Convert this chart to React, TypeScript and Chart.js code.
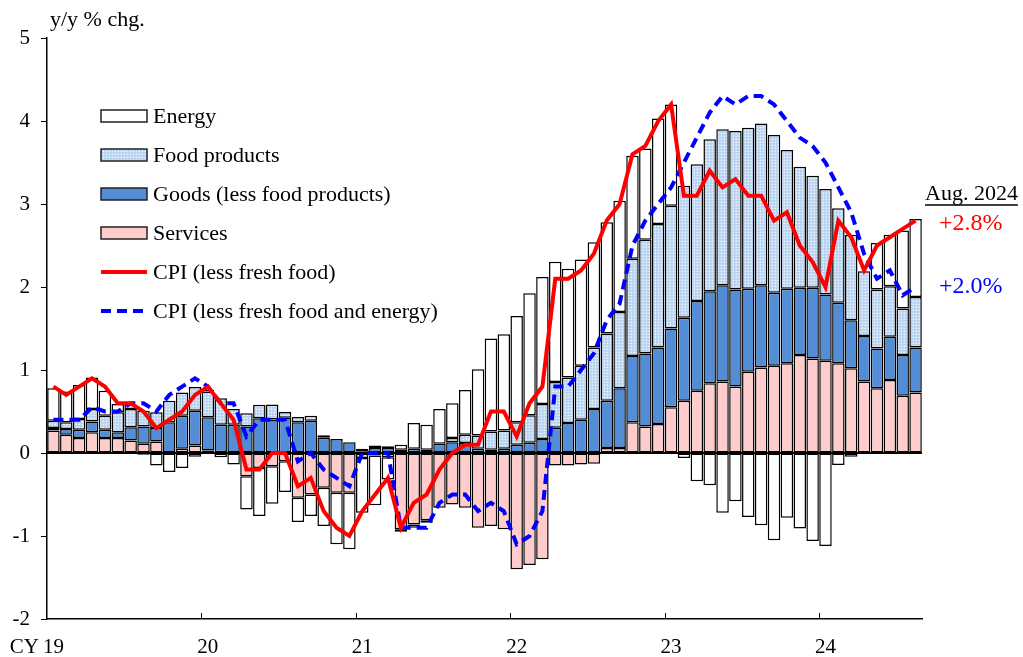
import React, { useEffect, useRef } from 'react';
import { Chart, registerables } from 'chart.js';

Chart.register(...registerables);

// ---------- data ----------
const yearLabels = ['19', '20', '21', '22', '23', '24'];
const monthsPerYear = [12, 12, 12, 12, 12, 8];
const months: string[] = [];
yearLabels.forEach((y, i) => {
  for (let m = 1; m <= monthsPerYear[i]; m++) months.push(`20${y}-${String(m).padStart(2, '0')}`);
});

const services = [
  0.27, 0.22, 0.18, 0.25, 0.18, 0.18, 0.15, 0.11, 0.14, 0.0, 0.05, 0.09,
  0.03, 0.01, 0.0, -0.28, -0.18, -0.16, -0.1, -0.54, -0.5, -0.42, -0.48, -0.48,
  -0.06, -0.03, -0.05, -0.92, -0.86, -0.81, -0.66, -0.62, -0.66, -0.9, -0.88, -0.92,
  -1.4, -1.35, -1.28, -0.15, -0.15, -0.14, -0.13, 0.06, 0.06, 0.37, 0.32, 0.35,
  0.55, 0.63, 0.75, 0.84, 0.86, 0.8, 0.98, 1.03, 1.05, 1.08, 1.18, 1.14,
  1.11, 1.08, 1.02, 0.86, 0.78, 0.88, 0.69, 0.73,
];
const goods = [
  0.03, 0.07, 0.1, 0.13, 0.1, 0.07, 0.16, 0.21, 0.16, 0.37, 0.4, 0.42,
  0.4, 0.33, 0.34, 0.32, 0.42, 0.405, 0.425, 0.37, 0.39, 0.185, 0.17, 0.13,
  0.02, 0.06, 0.06, 0.04, 0.05, 0.04, 0.11, 0.13, 0.12, 0.05, 0.04, 0.05,
  0.1, 0.125, 0.17, 0.305, 0.36, 0.4, 0.53, 0.57, 0.72, 0.8, 0.88, 0.92,
  0.95, 1.0, 1.08, 1.11, 1.16, 1.17, 1.0, 0.99, 0.88, 0.9, 0.81, 0.85,
  0.8, 0.73, 0.58, 0.55, 0.48, 0.52, 0.49, 0.54,
];
const food = [
  0.09, 0.08, 0.13, 0.15, 0.17, 0.24, 0.22, 0.19, 0.19, 0.26, 0.28, 0.285,
  0.31, 0.32, 0.19, 0.16, 0.16, 0.18, 0.07, 0.065, 0.06, 0.03, 0.0, 0.0,
  0.03, 0.03, 0.02, -0.03, -0.04, -0.03, 0.0, 0.05, 0.1, 0.16, 0.22, 0.22,
  0.27, 0.33, 0.42, 0.55, 0.55, 0.65, 0.74, 0.81, 0.92, 1.17, 1.37, 1.49,
  1.48, 1.59, 1.65, 1.83, 1.88, 1.91, 1.94, 1.95, 1.9, 1.67, 1.46, 1.35,
  1.27, 1.14, 1.03, 0.78, 0.71, 0.61, 0.56, 0.61,
];
const energy = [
  0.39, 0.37, 0.41, 0.38, 0.3, 0.1, 0.05, -0.02, -0.15, -0.23, -0.18, -0.045,
  0.02, -0.05, -0.14, -0.4, -0.58, -0.45, -0.37, -0.29, -0.26, -0.46, -0.62, -0.68,
  -0.66, -0.6, -0.27, 0.06, 0.31, 0.3, 0.42, 0.42, 0.54, 0.8, 1.12, 1.16,
  1.28, 1.47, 1.53, 1.45, 1.31, 1.28, 1.27, 1.34, 1.34, 1.24, 1.1, 1.27,
  1.22, -0.06, -0.34, -0.39, -0.72, -0.58, -0.77, -0.87, -1.05, -0.78, -0.91, -1.06,
  -1.12, -0.145, -0.044, 0.0, 0.56, 0.62, 0.94, 0.94,
];
const cpiLessFreshFood = [
  0.8, 0.7, 0.8, 0.9, 0.8, 0.6, 0.6, 0.5, 0.3, 0.4, 0.5, 0.7,
  0.8, 0.6, 0.4, -0.2, -0.2, 0.0, 0.0, -0.4, -0.3, -0.7, -0.9, -1.0,
  -0.7, -0.5, -0.3, -0.9, -0.6, -0.5, -0.2, 0.0, 0.1, 0.1, 0.5, 0.5,
  0.2, 0.6, 0.8, 2.1, 2.1, 2.2, 2.4, 2.8, 3.0, 3.6, 3.7, 4.0,
  4.2, 3.1, 3.1, 3.4, 3.2, 3.3, 3.1, 3.1, 2.8, 2.9, 2.5, 2.3,
  2.0, 2.8, 2.6, 2.2, 2.5, 2.6, 2.7, 2.8,
];
const cpiLessFreshFoodEnergy = [
  0.4, 0.4, 0.4, 0.55, 0.5, 0.5, 0.6, 0.6, 0.5, 0.7, 0.8, 0.9,
  0.8, 0.6, 0.6, 0.2, 0.4, 0.4, 0.4, -0.1, 0.0, -0.2, -0.3, -0.4,
  0.0, 0.0, 0.0, -0.9, -0.9, -0.9, -0.6, -0.5, -0.5, -0.7, -0.6, -0.7,
  -1.1, -1.0, -0.7, 0.8, 0.8, 1.0, 1.2, 1.6, 1.8, 2.5, 2.8, 3.0,
  3.2, 3.5, 3.8, 4.1, 4.3, 4.2, 4.3, 4.3, 4.2, 4.0, 3.8, 3.7,
  3.5, 3.2, 2.9, 2.4, 2.1, 2.2, 1.9, 2.0,
];
const latestLabel = 'Aug. 2024';
const latestCpi = '+2.8%';
const latestCore = '+2.0%';

// ---------- styles ----------
const FONT = '"Liberation Serif", "Times New Roman", serif';
const SERVICES_COLOR = '#FFCCCC';
const GOODS_COLOR = '#538DD5';
const ENERGY_COLOR = '#FFFFFF';
const RED = '#FF0000';
const BLUE = '#0000FF';

function makeFoodPattern(): CanvasPattern | string {
  const c = document.createElement('canvas');
  c.width = 3;
  c.height = 3;
  const p = c.getContext('2d');
  if (!p) return '#C0D8F1';
  p.fillStyle = '#B9D3F0';
  p.fillRect(0, 0, 3, 3);
  p.fillStyle = '#EEF4FC';
  p.fillRect(1, 1, 1, 1);
  p.fillStyle = '#D2E3F6';
  p.fillRect(0, 1, 1, 1);
  p.fillRect(1, 0, 1, 1);
  const pat = p.createPattern(c, 'repeat');
  return pat || '#C0D8F1';
}

export default function App() {
  const ref = useRef<HTMLCanvasElement | null>(null);

  useEffect(() => {
    const canvas = ref.current;
    if (!canvas) return;
    const foodFill = makeFoodPattern();

    const barCommon: any = {
      type: 'bar',
      borderColor: '#000000',
      borderWidth: 1.5,
      borderSkipped: false,
      barPercentage: 0.97,
      categoryPercentage: 1,
      order: 1,
      stack: 'contrib',
    };

    const legendItems = [
      { kind: 'box', fill: ENERGY_COLOR, text: 'Energy' },
      { kind: 'box', fill: foodFill, text: 'Food products' },
      { kind: 'box', fill: GOODS_COLOR, text: 'Goods (less food products)' },
      { kind: 'box', fill: SERVICES_COLOR, text: 'Services' },
      { kind: 'line', color: RED, dash: [], text: 'CPI (less fresh food)' },
      { kind: 'line', color: BLUE, dash: [10, 6], text: 'CPI (less fresh food and energy)' },
    ];

    const overlay = {
      id: 'overlay',
      beforeDatasetsDraw(chart: any) {
        chart.$zeroDrawn = false;
      },
      beforeDatasetDraw(chart: any, args: any) {
        if (args.meta.type === 'line' && !chart.$zeroDrawn) {
          const { ctx, chartArea, scales } = chart;
          const y0 = scales.y.getPixelForValue(0);
          ctx.save();
          ctx.strokeStyle = '#000';
          ctx.lineWidth = 2;
          ctx.beginPath();
          ctx.moveTo(chartArea.left, y0);
          ctx.lineTo(chartArea.right, y0);
          ctx.stroke();
          ctx.restore();
          chart.$zeroDrawn = true;
        }
      },
      afterDraw(chart: any) {
        const { ctx, chartArea, scales } = chart;
        const xs = scales.x;
        ctx.save();
        // year boundary tick marks (inward)
        ctx.strokeStyle = '#000';
        ctx.lineWidth = 1;
        for (let i = 12; i < months.length; i += 12) {
          const bx = Math.round((xs.getPixelForValue(i - 1) + xs.getPixelForValue(i)) / 2) + 0.5;
          ctx.beginPath();
          ctx.moveTo(bx, chartArea.bottom);
          ctx.lineTo(bx, chartArea.bottom - 6);
          ctx.stroke();
        }
        // "CY" prefix
        ctx.fillStyle = '#000';
        ctx.font = `21px ${FONT}`;
        ctx.textBaseline = 'top';
        ctx.textAlign = 'right';
        const firstX = xs.getPixelForValue(0);
        const w19 = ctx.measureText(yearLabels[0]).width;
        ctx.fillText('CY', firstX - w19 / 2 - 4, chartArea.bottom + 18);

        // y-axis unit
        ctx.textAlign = 'left';
        ctx.textBaseline = 'middle';
        ctx.font = `22px ${FONT}`;
        ctx.fillText('y/y % chg.', chartArea.left + 3, 20);

        // legend
        const lx = 101;
        const ly = [116, 155, 194, 233, 272, 311];
        legendItems.forEach((it: any, k: number) => {
          const cy = ly[k];
          if (it.kind === 'box') {
            ctx.fillStyle = it.fill;
            ctx.fillRect(lx, cy - 6, 46, 12);
            ctx.strokeStyle = '#222';
            ctx.lineWidth = 1.5;
            ctx.strokeRect(lx, cy - 6, 46, 12);
          } else {
            ctx.strokeStyle = it.color;
            ctx.lineWidth = 4;
            ctx.setLineDash(it.dash);
            ctx.beginPath();
            ctx.moveTo(lx, cy);
            ctx.lineTo(lx + 46, cy);
            ctx.stroke();
            ctx.setLineDash([]);
          }
          ctx.fillStyle = '#000';
          ctx.font = `22px ${FONT}`;
          ctx.textAlign = 'left';
          ctx.textBaseline = 'middle';
          ctx.fillText(it.text, lx + 52, cy + 1);
        });

        // latest values annotation
        const ax = chartArea.right + 3;
        ctx.font = `22px ${FONT}`;
        ctx.fillStyle = '#000';
        ctx.textBaseline = 'middle';
        ctx.fillText(latestLabel, ax, 194);
        const wl = ctx.measureText(latestLabel).width;
        ctx.strokeStyle = '#000';
        ctx.lineWidth = 1.3;
        ctx.beginPath();
        ctx.moveTo(ax, 205);
        ctx.lineTo(ax + wl, 205);
        ctx.stroke();
        ctx.font = `24px ${FONT}`;
        ctx.fillStyle = RED;
        ctx.fillText(latestCpi, ax + 14, 224);
        ctx.fillStyle = BLUE;
        ctx.fillText(latestCore, ax + 14, 287);
        ctx.restore();
      },
    };

    const chart = new Chart(canvas, {
      type: 'bar',
      data: {
        labels: months,
        datasets: [
          { ...barCommon, label: 'Services', data: services, backgroundColor: SERVICES_COLOR },
          { ...barCommon, label: 'Goods (less food products)', data: goods, backgroundColor: GOODS_COLOR },
          { ...barCommon, label: 'Food products', data: food, backgroundColor: foodFill },
          { ...barCommon, label: 'Energy', data: energy, backgroundColor: ENERGY_COLOR },
          {
            type: 'line',
            label: 'CPI (less fresh food)',
            data: cpiLessFreshFood,
            borderColor: RED,
            backgroundColor: RED,
            borderWidth: 4,
            pointRadius: 0,
            tension: 0,
            fill: false,
            order: 0,
            stack: 'l1',
          } as any,
          {
            type: 'line',
            label: 'CPI (less fresh food and energy)',
            data: cpiLessFreshFoodEnergy,
            borderColor: BLUE,
            backgroundColor: BLUE,
            borderWidth: 4,
            borderDash: [10, 6],
            pointRadius: 0,
            tension: 0,
            fill: false,
            order: 0,
            stack: 'l2',
          } as any,
        ],
      },
      options: {
        responsive: false,
        animation: false,
        devicePixelRatio: 1,
        layout: { padding: { top: 38, right: 101, bottom: 0, left: 0 } },
        plugins: { legend: { display: false }, tooltip: { enabled: false } },
        scales: {
          x: {
            stacked: true,
            offset: true,
            grid: { display: false, drawTicks: false },
            border: { display: true, color: '#000', width: 1.5 },
            ticks: {
              autoSkip: false,
              maxRotation: 0,
              minRotation: 0,
              padding: 16,
              color: '#000',
              font: { family: FONT, size: 21 },
              callback: (_v: any, i: number) => (i % 12 === 0 ? yearLabels[i / 12] : ''),
            },
            afterFit: (s: any) => {
              s.height = 38;
            },
          },
          y: {
            stacked: true,
            min: -2,
            max: 5,
            ticks: {
              stepSize: 1,
              padding: 11,
              color: '#000',
              font: { family: FONT, size: 21 },
            },
            grid: { drawOnChartArea: false, drawTicks: true, tickLength: 6, color: '#000' },
            border: { display: true, color: '#000', width: 1.5 },
            afterFit: (s: any) => {
              s.width = 47;
            },
          },
        },
      } as any,
      plugins: [overlay],
    });

    return () => chart.destroy();
  }, []);

  return (
    <div style={{ position: 'absolute', left: 0, top: 0, width: 1023, height: 657, background: '#fff' }}>
      <canvas ref={ref} width={1023} height={657} />
    </div>
  );
}
